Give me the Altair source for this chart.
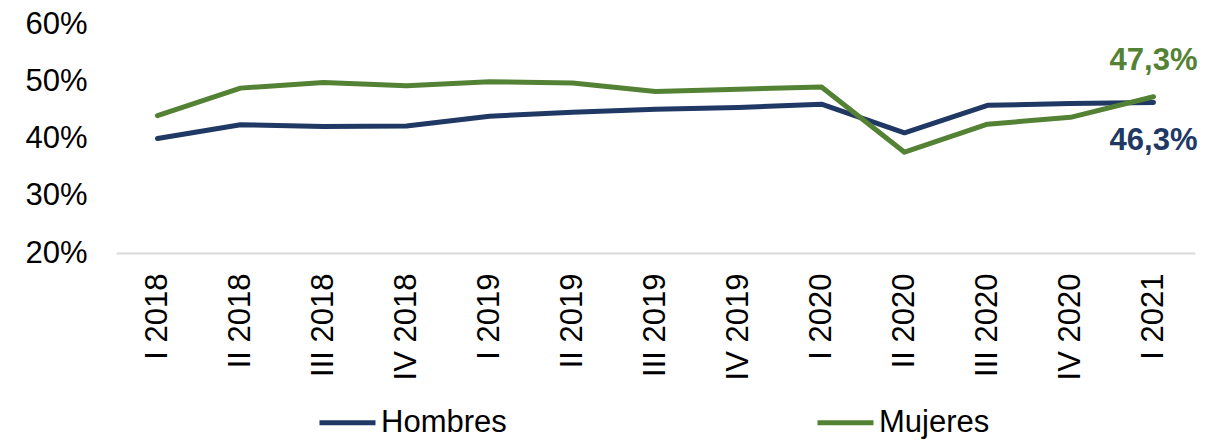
import altair as alt
import pandas as pd

periods = ["I 2018", "II 2018", "III 2018", "IV 2018", "I 2019", "II 2019", "III 2019",
           "IV 2019", "I 2020", "II 2020", "III 2020", "IV 2020", "I 2021"]
hombres = [40.0, 42.4, 42.1, 42.2, 43.9, 44.6, 45.1, 45.4, 46.0, 41.0, 45.8, 46.1, 46.3]
mujeres = [44.0, 48.8, 49.8, 49.2, 49.9, 49.7, 48.2, 48.6, 49.0, 37.6, 42.5, 43.7, 47.3]
series = ["Hombres", "Mujeres"]
colors = ["#203864", "#548235"]
y_ticks = [20, 30, 40, 50, 60]
title_text = "I. 2018 – I. 2021."

rows = []
for s, vals in zip(series, [hombres, mujeres]):
    for i, (p, v) in enumerate(zip(periods, vals)):
        rows.append({"periodo": p, "valor": v, "serie": s, "orden": i})
df = pd.DataFrame(rows)

end_h = pd.DataFrame([{"periodo": periods[-1], "valor": hombres[-1],
                       "label": f"{hombres[-1]:.1f}%".replace(".", ",")}])
end_m = pd.DataFrame([{"periodo": periods[-1], "valor": mujeres[-1],
                       "label": f"{mujeres[-1]:.1f}%".replace(".", ",")}])

FONT = "Liberation Sans"

x_enc = alt.X("periodo:N", sort=periods,
              scale=alt.Scale(type="point", padding=0.5),
              axis=alt.Axis(title=None, labelAngle=270, labelFontSize=31, labelFont=FONT,
                            labelColor="black", labelPadding=20, ticks=False,
                            domainColor="#d9d9d9", domainWidth=2, grid=False))
y_enc = alt.Y("valor:Q", scale=alt.Scale(domain=[20, 60], nice=False, zero=False),
              axis=alt.Axis(title=None, values=y_ticks, labelExpr="datum.value + '%'",
                            labelFontSize=31, labelFont=FONT, labelColor="black",
                            labelPadding=29, ticks=False, domain=False, grid=False))

lines = alt.Chart(df).mark_line(strokeWidth=5, strokeCap="round", strokeJoin="round").encode(
    x=x_enc,
    y=y_enc,
    color=alt.Color("serie:N", scale=alt.Scale(domain=series, range=colors),
                    legend=alt.Legend(title=None, orient="none", legendX=201, legendY=368,
                                      direction="horizontal", symbolType="stroke",
                                      symbolSize=3136, symbolStrokeWidth=5,
                                      labelFontSize=31, labelFont=FONT, labelColor="black",
                                      labelOffset=3, columnPadding=300, padding=0)),
    order="orden:Q",
)

lab_m = alt.Chart(end_m).mark_text(font=FONT, fontSize=31, fontWeight="bold", color=colors[1],
                                   align="center", baseline="middle", dy=-36).encode(
    x=alt.X("periodo:N", sort=periods), y="valor:Q", text="label:N")
lab_h = alt.Chart(end_h).mark_text(font=FONT, fontSize=31, fontWeight="bold", color=colors[0],
                                   align="center", baseline="middle", dy=39).encode(
    x=alt.X("periodo:N", sort=periods), y="valor:Q", text="label:N")

chart = alt.layer(lines, lab_m, lab_h).properties(
    width=1079, height=229,
    background="white",
    autosize=alt.AutoSizeParams(type="none"),
    padding={"left": 108, "top": 16, "right": 20, "bottom": 188},
    title=alt.TitleParams(title_text, fontSize=30, font=FONT, fontWeight="bold",
                          anchor="middle", offset=18, color="black"),
).configure_view(strokeWidth=0, stroke=None)

chart.save("out.html", embed_options={"renderer": "svg", "actions": False})
